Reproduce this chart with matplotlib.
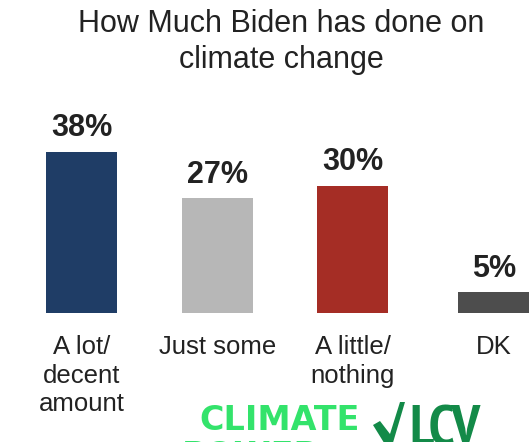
import matplotlib
matplotlib.use("Agg")
import matplotlib.pyplot as plt
from matplotlib.patches import Polygon
from matplotlib import font_manager
from matplotlib.font_manager import FontProperties

categories = ["A lot/\ndecent\namount", "Just some", "A little/\nnothing", "DK"]
values = [38, 27, 30, 5]
value_labels = ["38%", "27%", "30%", "5%"]
colors = ["#1f3d66", "#b7b7b7", "#a52d25", "#4d4d4d"]
title_lines = ["How Much Biden has done on", "climate change"]

plt.rcParams['font.family'] = ['Liberation Sans', 'DejaVu Sans']

# find a condensed bold font for the LCV logo text
cond_file = None
for f in font_manager.fontManager.ttflist:
    nm = f.name + " " + str(f.fname)
    is_cond = ("Narrow" in nm or "Condensed" in nm or
               f.stretch in ("condensed", "semi-condensed", "extra-condensed"))
    is_bold = f.weight in (700, 800, 900, "bold", "heavy", "black")
    if is_cond and is_bold and f.style == "normal":
        cond_file = f.fname
        if "Narrow" in nm:
            break

W, H = 529, 442
fig = plt.figure(figsize=(W / 100, H / 100), dpi=100)
fig.patch.set_facecolor("white")

ax = fig.add_axes([0, (H - 313) / H, 1, (313 - 100) / H])
ax.set_xlim(-0.605, 3.299)
ax.set_ylim(0, 50.2)
ax.axis("off")

positions = [0, 1, 2, 3.04]
ax.bar(positions, values, width=0.524, color=colors, clip_on=False)

for xi, v, lab in zip(positions, values, value_labels):
    ax.text(xi, v + 3.6, lab, ha="center", va="baseline", fontsize=22,
            fontweight="bold", color="#222222")

for xi, cat in zip(positions, categories):
    ax.annotate(cat, xy=(xi, 0), xytext=(0, -16), textcoords="offset points",
                ha="center", va="top", fontsize=18.5, color="#222222",
                linespacing=1.23, annotation_clip=False)

for i, line in enumerate(title_lines):
    fig.text(281.5 / W, 1 - (32 + 36 * i) / H, line, ha="center", va="baseline",
             fontsize=22, color="#222222")

# Logo
fig.text(199 / W, 1 - 430 / H, "CLIMATE", ha="left", va="baseline", fontsize=24,
         fontweight="bold", color="#33e36b", family="DejaVu Sans")
fig.text(182 / W, 1 - 466 / H, "POWER", ha="left", va="baseline", fontsize=24,
         fontweight="bold", color="#33e36b", family="DejaVu Sans")
check = [(373, 425), (380, 421), (390, 434), (400, 402), (405, 402), (392, 446), (386, 446)]
fig.patches.append(Polygon([(px / W, 1 - py / H) for px, py in check], closed=True,
                           transform=fig.transFigure, facecolor="#138a48", edgecolor="none"))
if cond_file:
    lcv_fp = FontProperties(fname=cond_file, size=41)
else:
    lcv_fp = FontProperties(family="DejaVu Sans", weight="bold", size=27)
fig.text(409 / W, 1 - 445 / H, "LCV", ha="left", va="baseline",
         fontproperties=lcv_fp, color="#138a48")

fig.savefig("out.png", dpi=100)
